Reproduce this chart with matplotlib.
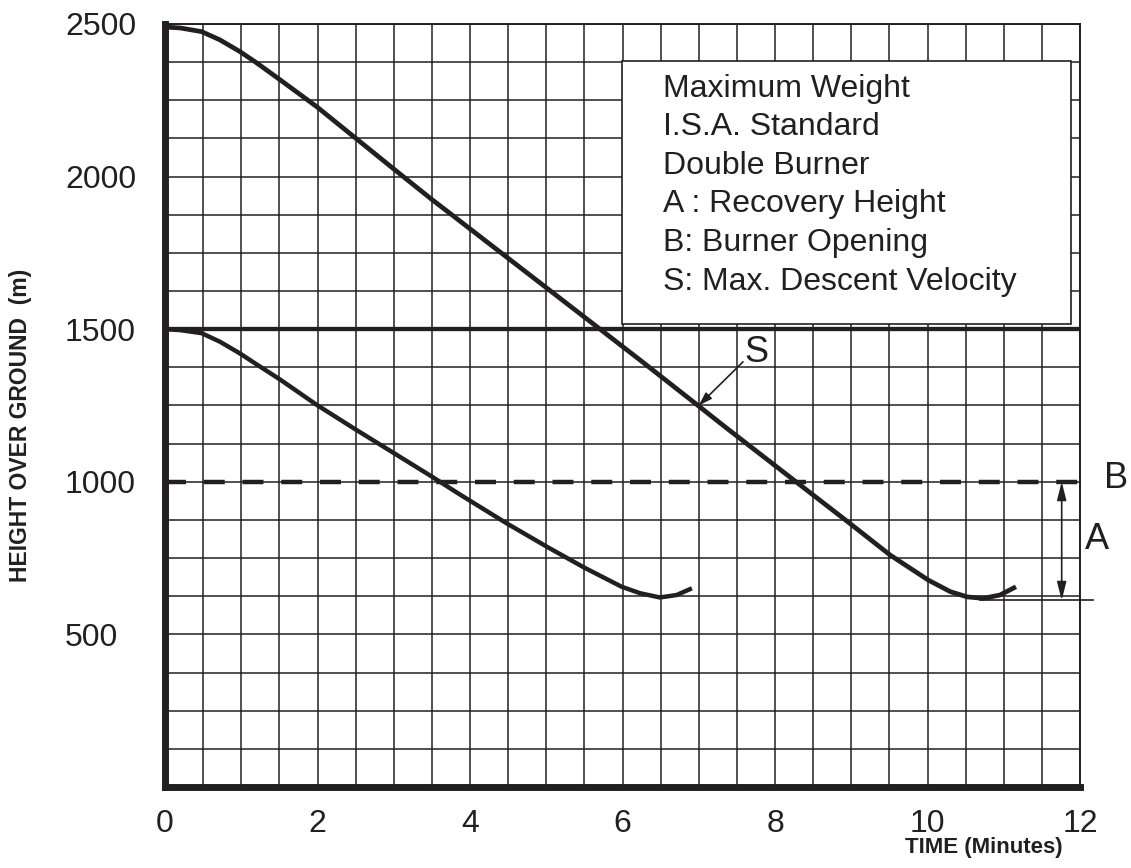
import numpy as np
import matplotlib.pyplot as plt
from matplotlib.patches import Rectangle
from matplotlib.ticker import MultipleLocator

plt.rcParams['font.family'] = ['Liberation Sans', 'DejaVu Sans']
plt.rcParams['lines.scale_dashes'] = False

INK = '#231f20'

# descent starting at 2500 m
upper_time = [0.0, 0.2, 0.48, 0.72, 0.98, 1.20, 1.51, 1.99, 2.49, 2.99, 3.50, 3.74,
              6.23, 6.99, 7.37, 8.98, 9.51, 10.01, 10.30, 10.52, 10.73, 10.95, 11.16]
upper_height = [2490, 2487, 2475, 2448, 2410, 2373, 2317, 2229, 2128, 2027, 1925, 1879,
                1399, 1250, 1175, 864, 760, 678, 640, 623, 618, 629, 656]

# descent starting at 1500 m
lower_time = [0.0, 0.2, 0.48, 0.72, 0.98, 1.20, 1.51, 1.99, 2.49, 2.95, 3.50, 3.87,
              4.48, 5.01, 5.49, 5.99, 6.23, 6.49, 6.71, 6.91]
lower_height = [1500, 1497, 1487, 1459, 1421, 1385, 1335, 1252, 1173, 1102, 1017, 958,
                864, 787, 720, 656, 635, 621, 629, 651]

start_level = 1500
burner_opening = 1000
recovery_height = 612
s_point = (7.0, 1250)

x_ticks = [0, 2, 4, 6, 8, 10, 12]
y_ticks = [500, 1000, 1500, 2000, 2500]
legend_lines = ["Maximum Weight", "I.S.A. Standard", "Double Burner",
                "A : Recovery Height", "B: Burner Opening", "S: Max. Descent Velocity"]

fig = plt.figure(figsize=(11.31, 8.68), dpi=100)
ax = fig.add_axes([165/1131, 1 - 787/868, 915/1131, 763/868])
ax.set_xlim(0, 12)
ax.set_ylim(0, 2500)

# grid: half minute by 125 m
ax.set_xticks(x_ticks)
ax.set_yticks(y_ticks)
ax.xaxis.set_minor_locator(MultipleLocator(0.5))
ax.yaxis.set_minor_locator(MultipleLocator(125))
ax.grid(True, which='both', color=INK, lw=1.1)
ax.set_axisbelow(True)

ax.tick_params(which='both', length=0, labelsize=23, colors=INK)
ax.tick_params(axis='x', pad=16)
ax.tick_params(axis='y', pad=72)
for lab in ax.get_yticklabels():
    lab.set_horizontalalignment('left')

for side in ['left', 'bottom']:
    ax.spines[side].set_linewidth(5)
    ax.spines[side].set_color(INK)
for side in ['top', 'right']:
    ax.spines[side].set_linewidth(1.4)
    ax.spines[side].set_color(INK)

# reference lines
ax.axhline(start_level, color=INK, lw=3.1, zorder=3)
ax.axhline(burner_opening, color=INK, lw=3.2, linestyle=(0, (15.1, 12.8)), zorder=3)

# descent curves
ax.plot(upper_time, upper_height, color=INK, lw=3.4, solid_capstyle='butt',
        solid_joinstyle='round', zorder=4)
ax.plot(lower_time, lower_height, color=INK, lw=3.2, solid_capstyle='butt',
        solid_joinstyle='round', zorder=4)

# recovery height marker and arrow
ax.plot([10.69, 12.17], [recovery_height, recovery_height], color=INK, lw=1.2,
        clip_on=False, zorder=3)
ax.annotate('', xy=(11.76, recovery_height), xytext=(11.76, burner_opening),
            arrowprops=dict(arrowstyle='<|-|>,head_length=0.55,head_width=0.14',
                            color=INK, lw=1.2, mutation_scale=20,
                            shrinkA=0, shrinkB=0))
ax.text(12.22, 810, 'A', fontsize=26, color=INK, ha='center', va='center')
ax.text(12.47, 1012, 'B', fontsize=26, color=INK, ha='center', va='center')

# max descent velocity marker
ax.annotate('', xy=s_point, xytext=(7.58, 1393),
            arrowprops=dict(arrowstyle='-|>,head_length=0.4,head_width=0.13',
                            color=INK, lw=1.2, mutation_scale=20,
                            shrinkA=0, shrinkB=0), zorder=5)
ax.text(7.76, 1425, 'S', fontsize=26, color=INK, ha='center', va='center')

# info box
ax.add_patch(Rectangle((5.99, 1517), 5.89, 862, facecolor='white',
                       edgecolor=INK, lw=1.2, zorder=3))
for i, line in enumerate(legend_lines):
    ax.text(6.53, 2262 - i * 126.5, line, fontsize=23, color=INK,
            ha='left', va='baseline', zorder=4)

fig.text(21/1131, 1 - 425/868, 'HEIGHT OVER GROUND  (m)', rotation=90,
         fontsize=16.5, fontweight='bold', color=INK, ha='center', va='center')
fig.text(984/1131, 1 - 847/868, 'TIME (Minutes)', fontsize=16,
         fontweight='bold', color=INK, ha='center', va='center')

fig.savefig('out.png', dpi=100)
